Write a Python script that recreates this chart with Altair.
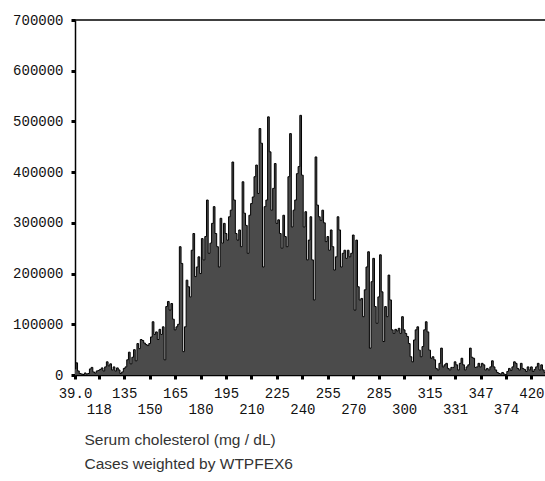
import altair as alt
import pandas as pd

# Serum cholesterol categories (distinct values present, ordinal axis)
low_chol = [39, 72, 79, 84, 88, 92, 96, 99, 102, 105, 108, 111, 113, 116, 118,
            119, 121, 122, 124, 125, 126, 127, 128, 129, 130, 131, 132, 133, 134]
mid_chol = list(range(135, 316))
high_chol = [316, 317, 318, 319, 320, 321, 322, 323, 324, 325, 326, 327, 329, 330,
             331, 332, 333, 334, 335, 336, 337, 338, 339, 340, 341, 342, 344, 345, 346,
             347, 348, 349, 350, 351, 352, 354, 356, 357, 359, 360, 362, 365, 368, 371,
             374, 376, 378, 380, 382, 385, 388, 390, 393, 396, 400, 404, 408, 412, 416,
             420, 423, 426, 430, 435, 441, 448, 458, 475]
chol = low_chol + mid_chol + high_chol

# Weighted case counts
weights = [
    12000, 24000, 8000, 3000, 2000, 1000, 4000, 2000, 3000, 12000,
    15000, 6000, 4000, 8000, 9000, 11000, 14000, 8000, 16000, 26000,
    18000, 22000, 10000, 16000, 8000, 14000, 10000, 3000, 6000, 13000,
    16000, 30000, 45000, 22000, 35000, 50000, 28000, 62000, 52000, 70000,
    68000, 63000, 60000, 58000, 62000, 75000, 105000, 80000, 85000, 70000,
    90000, 80000, 95000, 30000, 135000, 145000, 128000, 141000, 110000, 89000,
    95000, 100000, 253000, 220000, 46000, 95000, 187000, 174000, 154000, 246000,
    279000, 194000, 213000, 233000, 200000, 269000, 227000, 273000, 345000, 240000,
    260000, 299000, 332000, 279000, 253000, 213000, 309000, 260000, 299000, 279000,
    266000, 312000, 325000, 420000, 345000, 279000, 266000, 286000, 253000, 381000,
    319000, 295000, 240000, 315000, 338000, 351000, 391000, 414000, 358000, 486000,
    457000, 213000, 332000, 345000, 509000, 440000, 325000, 368000, 417000, 299000,
    306000, 279000, 250000, 315000, 273000, 253000, 391000, 476000, 292000, 325000,
    345000, 397000, 411000, 512000, 394000, 292000, 322000, 227000, 266000, 312000,
    227000, 148000, 430000, 335000, 312000, 305000, 325000, 300000, 263000, 273000,
    246000, 286000, 253000, 207000, 233000, 312000, 286000, 213000, 240000, 246000,
    230000, 246000, 233000, 240000, 276000, 128000, 266000, 174000, 148000, 151000,
    115000, 168000, 213000, 243000, 53000, 184000, 230000, 135000, 102000, 154000,
    237000, 164000, 66000, 135000, 115000, 197000, 148000, 89000, 82000, 90000,
    87000, 92000, 82000, 115000, 89000, 82000, 76000, 62000, 36000, 26000,
    69000, 89000, 95000, 49000, 36000, 56000, 89000, 105000, 85000, 49000,
    33000, 36000, 30000, 13000, 10000, 23000, 53000, 16000, 20000, 23000,
    13000, 10000, 15000, 15000, 26000, 20000, 10000, 23000, 33000, 20000,
    10000, 16000, 20000, 53000, 35000, 33000, 15000, 16000, 23000, 16000,
    23000, 20000, 10000, 13000, 10000, 16000, 28000, 16000, 10000, 5000,
    3000, 2000, 5000, 2000, 1000, 7000, 13000, 9000, 16000, 26000,
    23000, 13000, 10000, 23000, 13000, 11000, 7000, 16000, 10000, 16000,
    7000, 11000, 16000, 23000, 10000, 20000, 10000, 5000,
]

top_labels = [39, 135, 165, 195, 225, 255, 285, 315, 347, 420]
bottom_labels = [118, 150, 180, 210, 240, 270, 300, 331, 374]
tick_values = sorted(top_labels + bottom_labels)
y_ticks = [0, 100000, 200000, 300000, 400000, 500000, 600000, 700000]
title_lines = ["Serum cholesterol (mg / dL)", "Cases weighted by WTPFEX6"]

df = pd.DataFrame({"chol": chol, "weight": weights})
top_df = pd.DataFrame({"v": [700000]})

bottom_js = "[" + ",".join(str(v) for v in bottom_labels) + "]"
label_expr = (
    f"indexof({bottom_js}, datum.value) >= 0 ? ['', datum.label] : "
    "(datum.value == 39 ? '39.0' : datum.label)"
)

x_enc = alt.X(
    "chol:O",
    scale=alt.Scale(type="point", padding=0),
    axis=alt.Axis(
        values=tick_values,
        labelExpr=label_expr,
        labelAngle=0,
        labelBaseline="alphabetic",
        labelPadding=18,
        labelLineHeight=16,
        labelOverlap=False,
        labelFlush=False,
        labelFont="Liberation Mono",
        labelFontSize=14,
        labelColor="#111111",
        tickSize=4,
        tickWidth=3,
        tickColor="#000000",
        domainColor="#000000",
        domainWidth=1.5,
        grid=False,
        title=title_lines,
        titleFont="Liberation Sans",
        titleFontSize=15.5,
        titleFontWeight="normal",
        titleColor="#333333",
        titleAnchor="start",
        titleAlign="left",
        titleBaseline="alphabetic",
        titleX=9,
        titleY=69,
        titleLineHeight=24,
    ),
)

y_enc = alt.Y(
    "weight:Q",
    scale=alt.Scale(domain=[0, 700000], nice=False),
    axis=alt.Axis(
        values=y_ticks,
        format="d",
        labelFont="Liberation Mono",
        labelFontSize=14,
        labelColor="#111111",
        labelPadding=8,
        tickSize=4,
        tickWidth=3,
        tickColor="#000000",
        domainColor="#000000",
        domainWidth=1.5,
        grid=False,
        title=None,
    ),
)

area = alt.Chart(df).mark_area(interpolate="step", color="#4b4b4b").encode(
    x=x_enc, y=y_enc
)
outline = alt.Chart(df).mark_line(
    interpolate="step", color="#000000", strokeWidth=1
).encode(x="chol:O", y="weight:Q")
top_rule = alt.Chart(top_df).mark_rule(color="#000000", strokeWidth=1.5).encode(
    y="v:Q"
)

chart = (
    alt.layer(area, outline, top_rule)
    .properties(
        width=470,
        height=355,
        autosize=alt.AutoSizeParams(type="none"),
        padding={"left": 75, "top": 20, "right": 0, "bottom": 106},
        background="white",
    )
    .configure_view(stroke=None)
)

chart.save("out.html", embed_options={"renderer": "svg", "actions": False})
